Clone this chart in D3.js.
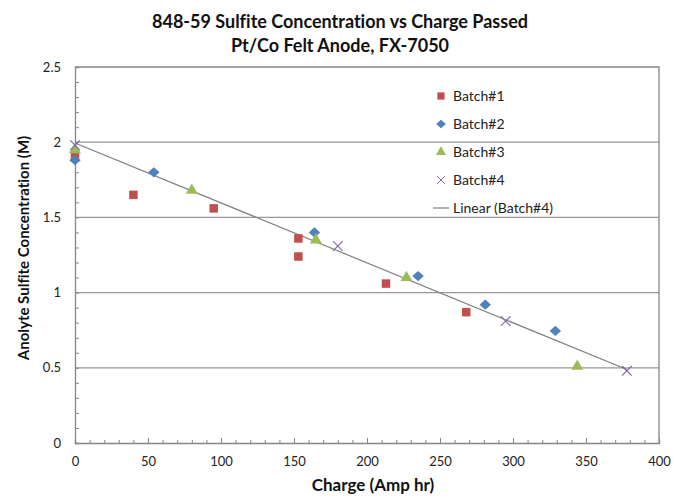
<!DOCTYPE html>
<html>
<head>
<meta charset="utf-8">
<script src="https://cdn.jsdelivr.net/npm/d3@7"></script>
<style>
  body { margin: 0; background: #fff; }
  text { font-family: Lato, "Open Sans", sans-serif; font-variant-ligatures: none; }
</style>
</head>
<body>
<div id="chart"></div>
<script>
//data
const batch1 = [[0, 1.90], [40, 1.65], [95, 1.56], [153, 1.36], [153, 1.24], [213, 1.06], [268, 0.87]];
const batch2 = [[0, 1.88], [54, 1.80], [164, 1.40], [235, 1.11], [281, 0.92], [329, 0.745]];
const batch3 = [[0, 1.95], [80, 1.68], [165, 1.35], [227, 1.10], [344, 0.51]];
const batch4 = [[0, 1.98], [180, 1.31], [295, 0.81], [378, 0.48]];
const seriesNames = ["Batch#1", "Batch#2", "Batch#3", "Batch#4"];
const xTicks = [0, 50, 100, 150, 200, 250, 300, 350, 400];
const yTicks = [0, 0.5, 1, 1.5, 2, 2.5];

const W = 674, H = 498;
const margin = { top: 67, right: 15, bottom: 55, left: 75 },
    width = W - margin.left - margin.right,
    height = H - margin.top - margin.bottom;

const root = d3.select("#chart").append("svg")
    .attr("width", W).attr("height", H);

const svg = root.append("g")
    .attr("transform", `translate(${margin.left},${margin.top})`);

const x = d3.scaleLinear().domain([0, 400]).range([0, width]);
const y = d3.scaleLinear().domain([0, 2.5]).range([height, 0]);

const axisColor = "#868686";

//gridlines
svg.append("g")
    .selectAll("line")
    .data(yTicks.filter(d => d > 0 && d < 2.5))
    .enter().append("line")
    .attr("x1", 0).attr("x2", width)
    .attr("y1", d => y(d)).attr("y2", d => y(d))
    .attr("stroke", "#999").attr("stroke-width", 1.3);

//plot border (top/right)
svg.append("path")
    .attr("d", `M0,0H${width}V${height}`)
    .attr("fill", "none").attr("stroke", axisColor).attr("stroke-width", 1.3);

//X axis with minor ticks inside
svg.append("g")
    .attr("transform", `translate(0,${height})`)
    .call(d3.axisBottom(x).tickValues(d3.range(0, 401, 10)).tickSize(-3).tickFormat(""))
    .call(g => g.select(".domain").attr("stroke", axisColor).attr("stroke-width", 1.3))
    .call(g => g.selectAll(".tick line").attr("stroke", axisColor));
svg.append("g")
    .attr("transform", `translate(0,${height})`)
    .call(d3.axisBottom(x).tickValues(xTicks).tickSize(-5).tickPadding(14))
    .call(g => g.select(".domain").remove())
    .call(g => g.selectAll(".tick line").attr("stroke", axisColor))
    .call(g => g.selectAll("text").attr("fill", "#222").style("font-size", "13px"));

//Y axis
svg.append("g")
    .call(d3.axisLeft(y).tickValues(d3.range(0, 2.51, 0.1)).tickSize(-4).tickFormat(""))
    .call(g => g.select(".domain").attr("stroke", axisColor).attr("stroke-width", 1.3))
    .call(g => g.selectAll(".tick line").attr("stroke", axisColor));
svg.append("g")
    .call(d3.axisLeft(y).tickValues(yTicks).tickSize(0).tickPadding(14).tickFormat(d => d))
    .call(g => g.select(".domain").remove())
    .call(g => g.selectAll("text").attr("fill", "#222").style("font-size", "13px"));

//linear trendline for batch 4
const mx = d3.mean(batch4, d => d[0]), my = d3.mean(batch4, d => d[1]);
const slope = d3.sum(batch4, d => (d[0] - mx) * (d[1] - my)) / d3.sum(batch4, d => (d[0] - mx) ** 2);
const intercept = my - slope * mx;
const xr = d3.extent(batch4, d => d[0]);
svg.append("line")
    .attr("x1", x(xr[0])).attr("y1", y(intercept + slope * xr[0]))
    .attr("x2", x(xr[1])).attr("y2", y(intercept + slope * xr[1]))
    .attr("stroke", "#7f7f7f").attr("stroke-width", 1.2);

//markers
const colors = ["#c0504d", "#4f81bd", "#9bbb59", "#8064a2"];
const symbols = [
    d3.symbol().type(d3.symbolSquare).size(72),
    d3.symbol().type(d3.symbolSquare).size(52),
    d3.symbol().type(d3.symbolTriangle).size(62),
    d3.symbol().type(d3.symbolTimes).size(62)
];
const allSeries = [batch1, batch2, batch3, batch4];

function drawMarker(g, i) {
    if (i === 3) {
        g.append("path").attr("d", symbols[i]())
            .attr("fill", "none").attr("stroke", colors[i]).attr("stroke-width", 1.1);
    } else if (i === 1) {
        //diamond: rotated square, a bit wider than tall
        g.append("path").attr("d", symbols[i]())
            .attr("transform", "scale(1.12,1) rotate(45)")
            .attr("fill", colors[i]);
    } else {
        g.append("path").attr("d", symbols[i]()).attr("fill", colors[i]);
    }
}

allSeries.forEach((data, i) => {
    svg.append("g").selectAll("g")
        .data(data)
        .enter().append("g")
        .attr("transform", d => `translate(${x(d[0])},${y(d[1])})`)
        .each(function () { drawMarker(d3.select(this), i); });
});

//legend
const legend = svg.append("g").attr("transform", `translate(${441 - margin.left},${96 - margin.top})`);
seriesNames.forEach((name, i) => {
    const row = legend.append("g").attr("transform", `translate(0,${i * 28})`);
    const m = row.append("g").attr("transform", "scale(0.85)");
    drawMarker(m, i);
    row.append("text").attr("x", 12).attr("dy", "0.35em")
        .style("font-size", "14px").attr("fill", "#222").text(name);
});
const lrow = legend.append("g").attr("transform", `translate(0,${4 * 28})`);
lrow.append("line").attr("x1", -8).attr("x2", 8).attr("stroke", "#7f7f7f").attr("stroke-width", 1.2);
lrow.append("text").attr("x", 12).attr("dy", "0.35em")
    .style("font-size", "14px").attr("fill", "#222").text("Linear (Batch#4)");

//titles
root.append("text").attr("x", 340).attr("y", 28).attr("text-anchor", "middle")
    .style("font-size", "18px").style("font-weight", "bold").attr("fill", "#111")
    .text("848-59 Sulfite Concentration vs Charge Passed");
root.append("text").attr("x", 340).attr("y", 52).attr("text-anchor", "middle")
    .style("font-size", "18px").style("font-weight", "bold").attr("fill", "#111")
    .text("Pt/Co Felt Anode, FX-7050");
root.append("text").attr("x", 373).attr("y", 491).attr("text-anchor", "middle")
    .style("font-size", "17px").style("font-weight", "bold").attr("fill", "#111")
    .text("Charge (Amp hr)");
root.append("text")
    .attr("transform", `translate(29,248) rotate(-90)`)
    .attr("text-anchor", "middle")
    .style("font-size", "15px").style("font-weight", "bold").attr("fill", "#111")
    .text("Anolyte Sulfite Concentration (M)");
</script>
</body>
</html>
